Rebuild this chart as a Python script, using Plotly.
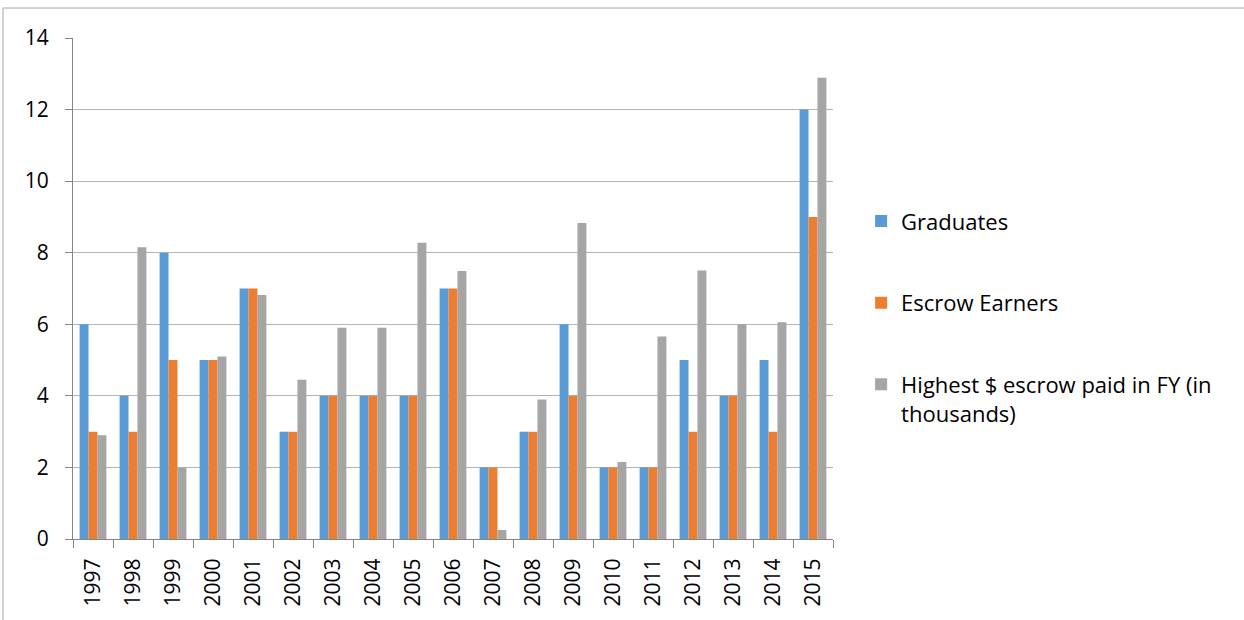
import plotly.graph_objects as go

years = ["1997", "1998", "1999", "2000", "2001", "2002", "2003", "2004", "2005", "2006",
         "2007", "2008", "2009", "2010", "2011", "2012", "2013", "2014", "2015"]
graduates = [6, 4, 8, 5, 7, 3, 4, 4, 4, 7, 2, 3, 6, 2, 2, 5, 4, 5, 12]
escrow_earners = [3, 3, 5, 5, 7, 3, 4, 4, 4, 7, 2, 3, 4, 2, 2, 3, 4, 3, 9]
highest_escrow = [2.9, 8.15, 2.0, 5.1, 6.82, 4.45, 5.9, 5.9, 8.28, 7.49,
                  0.25, 3.9, 8.83, 2.15, 5.66, 7.5, 6.0, 6.06, 12.89]

names = ["Graduates", "Escrow Earners", "Highest $ escrow paid in FY (in<br>thousands)"]
colors = ["#5b9bd5", "#ed7d31", "#a5a5a5"]
series = [graduates, escrow_earners, highest_escrow]

fig = go.Figure()
for i, (n, c, v) in enumerate(zip(names, colors, series)):
    fig.add_trace(go.Bar(x=years, y=v, name=n, marker_color=c,
                         marker_line_width=0, legendgroup=f"g{i}"))

FONT = "Open Sans, Liberation Sans, sans-serif"

fig.update_layout(
    width=1244, height=620,
    margin=dict(l=73, r=411, t=38, b=81),
    paper_bgcolor="white", plot_bgcolor="white",
    barmode="group", bargap=0.33, bargroupgap=0,
    font=dict(family=FONT, size=21, color="#000000"),
    showlegend=True,
    legend=dict(x=1.037, y=0.676, xanchor="left", yanchor="top",
                font=dict(family=FONT, size=22, color="#000000"),
                tracegroupgap=50, valign="top", itemwidth=30,
                bgcolor="rgba(0,0,0,0)"),
    xaxis=dict(type="category", showline=True, linecolor="#868686", linewidth=1,
               ticks="outside", ticklen=8, tickcolor="#868686",
               tickson="boundaries", tickangle=-90, ticklabelstandoff=10,
               tickfont=dict(family=FONT, size=21), showgrid=False),
    yaxis=dict(range=[0, 14], dtick=2, showline=True, linecolor="#868686", linewidth=1,
               ticks="outside", ticklen=7, tickcolor="#868686", ticklabelstandoff=12,
               gridcolor="#b4b4b4", gridwidth=1, zeroline=False,
               tickfont=dict(family=FONT, size=21)),
    shapes=[dict(type="rect", xref="paper", yref="paper",
                 x0=(3 - 73) / 760, x1=(1260 - 73) / 760,
                 y0=(539 - 640) / 501, y1=(539 - 8) / 501,
                 line=dict(color="#a6a6a6", width=1), layer="below")],
)

fig.write_html("out.html")
